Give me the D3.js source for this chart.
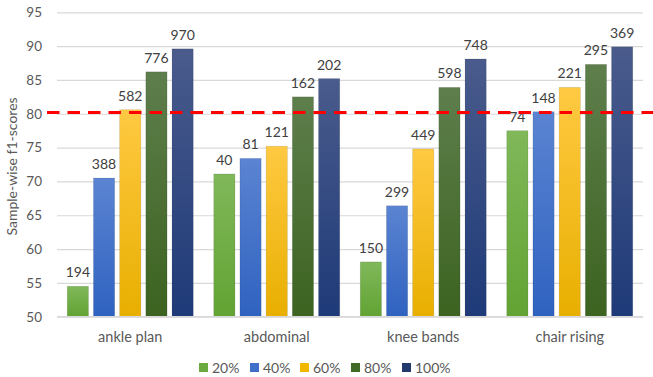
<!DOCTYPE html>
<html>
<head>
<meta charset="utf-8">
<script src="https://cdn.jsdelivr.net/npm/d3@7"></script>
<style>
  html, body { margin: 0; padding: 0; background: #ffffff; }
  svg { display: block; font-family: Lato, "Open Sans", sans-serif; }
</style>
</head>
<body>
<svg id="chart" width="653" height="377"></svg>
<script>
// Exercises and training-set fractions
const categories = ["ankle plan", "abdominal", "knee bands", "chair rising"];
const series = ["20%", "40%", "60%", "80%", "100%"];

// Sample-wise f1-scores, one array per exercise (20% .. 100%)
const anklePlan   = [54.5, 70.5, 80.6, 86.2, 89.6];
const abdominal   = [71.1, 73.4, 75.2, 82.5, 85.2];
const kneeBands   = [58.1, 66.4, 74.8, 83.9, 88.1];
const chairRising = [77.5, 80.3, 83.9, 87.3, 89.9];

// Number of samples printed above each bar
const anklePlanN   = [194, 388, 582, 776, 970];
const abdominalN   = [40, 81, 121, 162, 202];
const kneeBandsN   = [150, 299, 449, 598, 748];
const chairRisingN = [74, 148, 221, 295, 369];

const yTicks = [50, 55, 60, 65, 70, 75, 80, 85, 90, 95];
const threshold = 80.2;

const values = [anklePlan, abdominal, kneeBands, chairRising];
const counts = [anklePlanN, abdominalN, kneeBandsN, chairRisingN];

// Fill gradients per series: [top, bottom]
const palette = [
  ["#80b85a", "#62a333"],
  ["#5b84d2", "#2f62c0"],
  ["#ffc942", "#e8af00"],
  ["#5e7e4c", "#3c6320"],
  ["#4a5b8c", "#1e3a78"]
];
const legendColors = ["#6aaa3e", "#3f6fc8", "#f2b800", "#416a26", "#22396e"];

const svg = d3.select("#chart");
const plotLeft = 57, plotRight = 643;
const plotBottom = 316.7, plotTop = 12.3;

const x0 = d3.scaleBand().domain(categories).range([plotLeft, plotRight]).paddingInner(0).paddingOuter(0);
const groupW = 126;
const x1 = d3.scaleBand().domain(series).range([0, groupW]).paddingInner(0.19).paddingOuter(0);
const y = d3.scaleLinear().domain([50, 95]).range([plotBottom, plotTop]);

const defs = svg.append("defs");
palette.forEach((c, i) => {
  const g = defs.append("linearGradient").attr("id", "grad" + i)
    .attr("x1", 0).attr("y1", 0).attr("x2", 0).attr("y2", 1);
  g.append("stop").attr("offset", "0%").attr("stop-color", c[0]);
  g.append("stop").attr("offset", "100%").attr("stop-color", c[1]);
});

// Gridlines and value ticks
const yAxis = d3.axisLeft(y).tickValues(yTicks).tickSize(-(plotRight - plotLeft)).tickPadding(15);
const ya = svg.append("g").attr("transform", `translate(${plotLeft},0)`).call(yAxis);
ya.select(".domain").remove();
ya.selectAll(".tick line").attr("stroke", "#d9d9d9").attr("stroke-width", 1.2);
ya.selectAll(".tick text").attr("fill", "#595959").attr("font-size", 13.5)
  .attr("font-family", "Lato, sans-serif");

// Axis title
svg.append("text")
  .attr("transform", `translate(17, ${(plotTop + plotBottom) / 2 + 2}) rotate(-90)`)
  .attr("text-anchor", "middle")
  .attr("fill", "#595959").attr("font-size", 14)
  .text("Sample-wise f1-scores");

// Bars with sample counts
const groups = svg.append("g").selectAll("g").data(categories).join("g")
  .attr("transform", d => `translate(${x0(d) + x0.bandwidth() / 2 - groupW / 2},0)`);

groups.each(function (cat, ci) {
  const g = d3.select(this);
  series.forEach((s, si) => {
    const v = values[ci][si];
    g.append("rect")
      .attr("x", x1(s)).attr("y", y(v))
      .attr("width", x1.bandwidth()).attr("height", y(50) - y(v))
      .attr("fill", `url(#grad${si})`)
      .attr("stroke", "rgba(0,0,0,0.12)").attr("stroke-width", 0.8);
    g.append("text")
      .attr("x", x1(s) + x1.bandwidth() / 2).attr("y", y(v) - 9)
      .attr("text-anchor", "middle").attr("fill", "#404040").attr("font-size", 14)
      .text(counts[ci][si]);
  });
});

// Baseline
svg.append("line").attr("x1", plotLeft).attr("x2", plotRight)
  .attr("y1", y(50)).attr("y2", y(50)).attr("stroke", "#d9d9d9").attr("stroke-width", 1.5);

// Category labels
const xAxis = d3.axisBottom(x0).tickSize(0).tickPadding(15);
const xa = svg.append("g").attr("transform", `translate(0,${y(50)})`).call(xAxis);
xa.select(".domain").remove();
xa.selectAll(".tick text").attr("fill", "#595959").attr("font-size", 14.5)
  .attr("font-family", "Lato, sans-serif");

// Threshold line
svg.append("line").attr("x1", 47).attr("x2", 653)
  .attr("y1", y(threshold)).attr("y2", y(threshold))
  .attr("stroke", "#ff0000").attr("stroke-width", 3).attr("stroke-dasharray", "12.5,8");

// Legend
const legend = svg.append("g").attr("transform", "translate(199,363)");
const itemX = [0, 51, 101, 152, 203];
series.forEach((s, i) => {
  const it = legend.append("g").attr("transform", `translate(${itemX[i]},0)`);
  it.append("rect").attr("width", 9).attr("height", 9).attr("fill", legendColors[i]);
  it.append("text").attr("x", 13).attr("y", 9.5).attr("fill", "#595959")
    .attr("font-size", 14).text(s);
});
</script>
</body>
</html>
